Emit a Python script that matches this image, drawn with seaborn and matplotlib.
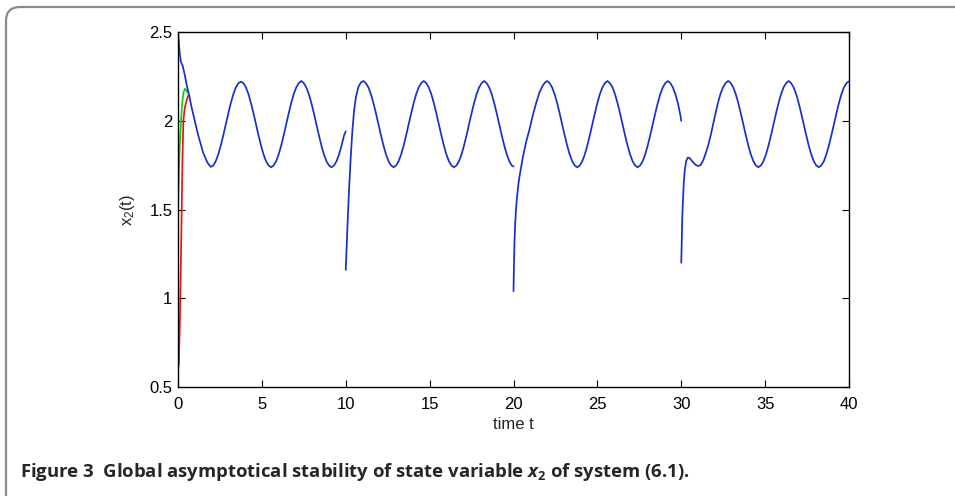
import matplotlib
matplotlib.use("Agg")
import matplotlib.pyplot as plt
import matplotlib.transforms as mtransforms
import seaborn as sns
from matplotlib.patches import FancyBboxPatch

# ---------------- data ----------------
red_t = [0.0, 0.05, 0.12, 0.18, 0.22, 0.27, 0.32, 0.40, 0.50, 0.60, 0.66]
red_x = [0.60, 0.63, 0.90, 1.25, 1.50, 1.80, 2.00, 2.07, 2.11, 2.14, 2.145]

green_t = [0.0, 0.05, 0.10, 0.18, 0.25, 0.33, 0.42, 0.50, 0.56]
green_x = [1.50, 1.70, 1.85, 2.00, 2.10, 2.16, 2.18, 2.17, 2.16]

seg1_t = [0.0, 0.05, 0.10, 0.18, 0.28, 0.40, 0.52, 0.66, 0.80, 1.00, 1.20, 1.50, 1.75,
          1.95, 2.10, 2.25, 2.40, 2.55, 2.70, 2.85, 3.00, 3.15, 3.30, 3.45, 3.60, 3.75,
          3.90, 4.05, 4.20, 4.35, 4.50, 4.65, 4.80, 4.95, 5.10, 5.25, 5.40, 5.55,
          5.70, 5.85, 6.00, 6.15, 6.30, 6.45, 6.60, 6.75, 6.90, 7.05, 7.20, 7.35,
          7.50, 7.65, 7.80, 7.95, 8.10, 8.25, 8.40, 8.55, 8.70, 8.85, 9.00, 9.15,
          9.30, 9.45, 9.60, 9.75, 9.90, 10.0]
seg1_x = [2.50, 2.44, 2.38, 2.33, 2.31, 2.26, 2.20, 2.145, 2.08, 2.00, 1.92, 1.82, 1.765,
          1.740, 1.748, 1.772, 1.810, 1.860, 1.918, 1.980, 2.042, 2.100, 2.150, 2.188, 2.212, 2.220,
          2.212, 2.188, 2.150, 2.100, 2.042, 1.980, 1.918, 1.860, 1.810, 1.772, 1.748, 1.738,
          1.748, 1.772, 1.810, 1.860, 1.918, 1.980, 2.042, 2.100, 2.150, 2.188, 2.212, 2.224,
          2.212, 2.188, 2.150, 2.100, 2.042, 1.980, 1.918, 1.860, 1.810, 1.772, 1.748, 1.738,
          1.748, 1.772, 1.810, 1.860, 1.918, 1.940]

seg2_t = [10.0, 10.05, 10.1, 10.2, 10.3, 10.4, 10.5, 10.6, 10.75, 10.9,
          11.05, 11.20, 11.35, 11.50, 11.65, 11.80, 11.95, 12.10, 12.25, 12.40, 12.55, 12.70, 12.85,
          13.00, 13.15, 13.30, 13.45, 13.60, 13.75, 13.90, 14.05, 14.20, 14.35, 14.50, 14.65,
          14.80, 14.95, 15.10, 15.25, 15.40, 15.55, 15.70, 15.85, 16.00, 16.15, 16.30, 16.45,
          16.60, 16.75, 16.90, 17.05, 17.20, 17.35, 17.50, 17.65, 17.80, 17.95, 18.10, 18.25,
          18.40, 18.55, 18.70, 18.85, 19.00, 19.15, 19.30, 19.45, 19.60, 19.75, 19.90, 20.0]
seg2_x = [1.16, 1.28, 1.40, 1.62, 1.80, 1.95, 2.06, 2.13, 2.19, 2.215,
          2.224, 2.212, 2.188, 2.150, 2.100, 2.042, 1.980, 1.918, 1.860, 1.810, 1.772, 1.748, 1.738,
          1.748, 1.772, 1.810, 1.860, 1.918, 1.980, 2.042, 2.100, 2.150, 2.188, 2.212, 2.224,
          2.212, 2.188, 2.150, 2.100, 2.042, 1.980, 1.918, 1.860, 1.810, 1.772, 1.748, 1.738,
          1.748, 1.772, 1.810, 1.860, 1.918, 1.980, 2.042, 2.100, 2.150, 2.188, 2.212, 2.224,
          2.212, 2.188, 2.150, 2.100, 2.042, 1.980, 1.918, 1.860, 1.810, 1.772, 1.748, 1.742]

seg3_t = [20.0, 20.03, 20.06, 20.1, 20.15, 20.2, 20.3, 20.4, 20.55, 20.75, 20.95, 21.15,
          21.35, 21.55, 21.75, 21.9, 22.0,
          22.15, 22.30, 22.45, 22.60, 22.75, 22.90, 23.05, 23.20, 23.35, 23.50, 23.65, 23.80,
          23.95, 24.10, 24.25, 24.40, 24.55, 24.70, 24.85, 25.00, 25.15, 25.30, 25.45, 25.60,
          25.75, 25.90, 26.05, 26.20, 26.35, 26.50, 26.65, 26.80, 26.95, 27.10, 27.25, 27.40,
          27.55, 27.70, 27.85, 28.00, 28.15, 28.30, 28.45, 28.60, 28.75, 28.90, 29.05, 29.20,
          29.35, 29.50, 29.65, 29.80, 29.95, 30.0]
seg3_x = [1.04, 1.20, 1.32, 1.42, 1.50, 1.56, 1.65, 1.71, 1.79, 1.88, 1.95, 2.03,
          2.10, 2.16, 2.20, 2.217, 2.224,
          2.212, 2.188, 2.150, 2.100, 2.042, 1.980, 1.918, 1.860, 1.810, 1.772, 1.748, 1.738,
          1.748, 1.772, 1.810, 1.860, 1.918, 1.980, 2.042, 2.100, 2.150, 2.188, 2.212, 2.224,
          2.212, 2.188, 2.150, 2.100, 2.042, 1.980, 1.918, 1.860, 1.810, 1.772, 1.748, 1.738,
          1.748, 1.772, 1.810, 1.860, 1.918, 1.980, 2.042, 2.100, 2.150, 2.188, 2.212, 2.224,
          2.212, 2.188, 2.150, 2.100, 2.030, 2.000]

seg4_t = [30.0, 30.03, 30.06, 30.1, 30.15, 30.22, 30.3, 30.4, 30.5, 30.65, 30.85, 31.0,
          31.15, 31.3, 31.45, 31.6, 31.75, 31.9, 32.05, 32.2, 32.35, 32.5, 32.65, 32.8,
          32.95, 33.10, 33.25, 33.40, 33.55, 33.70, 33.85, 34.00, 34.15, 34.30, 34.45, 34.60,
          34.75, 34.90, 35.05, 35.20, 35.35, 35.50, 35.65, 35.80, 35.95, 36.10, 36.25, 36.40,
          36.55, 36.70, 36.85, 37.00, 37.15, 37.30, 37.45, 37.60, 37.75, 37.90, 38.05, 38.20,
          38.35, 38.50, 38.65, 38.80, 38.95, 39.10, 39.25, 39.40, 39.55, 39.70, 39.85, 40.0]
seg4_x = [1.20, 1.32, 1.45, 1.55, 1.65, 1.73, 1.775, 1.793, 1.79, 1.772, 1.752, 1.745,
          1.750, 1.775, 1.815, 1.860, 1.915, 1.980, 2.045, 2.105, 2.155, 2.190, 2.213, 2.224,
          2.212, 2.188, 2.150, 2.100, 2.042, 1.980, 1.918, 1.860, 1.810, 1.772, 1.748, 1.738,
          1.748, 1.772, 1.810, 1.860, 1.918, 1.980, 2.042, 2.100, 2.150, 2.188, 2.212, 2.224,
          2.212, 2.188, 2.150, 2.100, 2.042, 1.980, 1.918, 1.860, 1.810, 1.772, 1.748, 1.738,
          1.748, 1.772, 1.810, 1.860, 1.918, 1.980, 2.042, 2.100, 2.150, 2.188, 2.212, 2.222]

x_ticks = [0, 5, 10, 15, 20, 25, 30, 35, 40]
y_ticks = [0.5, 1, 1.5, 2, 2.5]
y_ticklabels = ["0.5", "1", "1.5", "2", "2.5"]

# ---------------- style ----------------
sns.set_style("ticks")
plt.rcParams["font.family"] = ["Liberation Sans", "DejaVu Sans"]
plt.rcParams["mathtext.fontset"] = "custom"
plt.rcParams["mathtext.rm"] = "Liberation Sans"
plt.rcParams["mathtext.it"] = "Open Sans:italic:bold"
plt.rcParams["mathtext.bf"] = "Open Sans:bold"

fig = plt.figure(figsize=(9.55, 4.96), dpi=100)
ax = fig.add_axes([178 / 955, 1 - 387 / 496, (849 - 178) / 955, (387 - 32) / 496])

BLUE = "#1530d0"
lw = 1.25
sns.lineplot(x=red_t, y=red_x, ax=ax, color="#f01010", lw=lw, sort=False, estimator=None)
sns.lineplot(x=green_t, y=green_x, ax=ax, color="#10d010", lw=lw, sort=False, estimator=None)
for tt, xx in [(seg1_t, seg1_x), (seg2_t, seg2_x), (seg3_t, seg3_x), (seg4_t, seg4_x)]:
    sns.lineplot(x=tt, y=xx, ax=ax, color=BLUE, lw=lw, sort=False, estimator=None)

ax.set_xlim(0, 40)
ax.set_ylim(0.5, 2.5)
ax.set_xticks(x_ticks)
ax.set_xticklabels([str(v) for v in x_ticks])
ax.set_yticks(y_ticks)
ax.set_yticklabels(y_ticklabels)
ax.tick_params(direction="in", length=5, width=0.8, labelsize=12, colors="black",
               top=True, right=True)
ax.tick_params(axis="x", pad=7)
ax.tick_params(axis="y", pad=4)
for s in ax.spines.values():
    s.set_visible(True)
    s.set_linewidth(1.0)
    s.set_color("black")

ax.set_xlabel("time t", fontsize=12, labelpad=4)
ax.set_ylabel(r"$\mathrm{x_2(t)}$", fontsize=12, labelpad=9)

# rounded frame around figure (pixel coordinates)
frame = FancyBboxPatch((6, -40), 1100, 496 - 7 + 40,
                       boxstyle="round,pad=0,rounding_size=14",
                       transform=mtransforms.IdentityTransform(), fill=False,
                       edgecolor="#8a8a8a", lw=1.6, clip_on=False)
fig.patches.append(frame)

fig.text(20 / 955, 1 - 472 / 496,
         r"Figure 3  Global asymptotical stability of state variable $x_{\mathbf{2}}$ of system (6.1).",
         fontsize=13.3, fontweight="bold", family=["Open Sans", "DejaVu Sans"],
         va="center", ha="left")

fig.savefig("out.png", dpi=100)
